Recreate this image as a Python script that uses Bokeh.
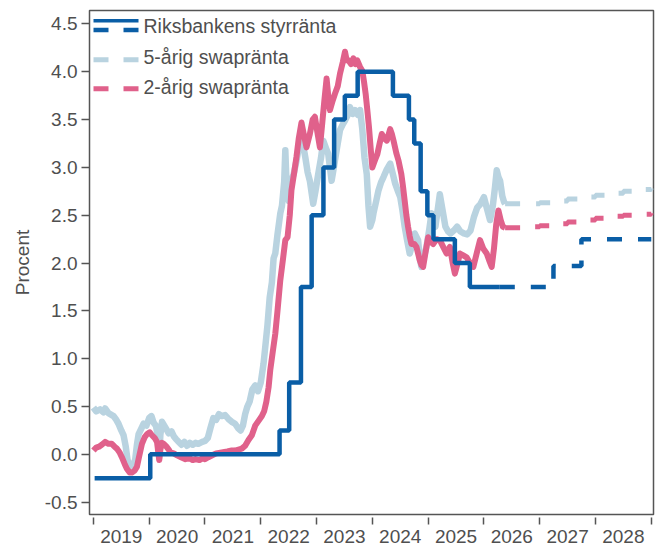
import datetime as dt
from bokeh.plotting import figure
from bokeh.models import Range1d, FixedTicker, CustomJSTickFormatter, PrintfTickFormatter
from bokeh.embed import file_html
from bokeh.resources import INLINE
from bokeh.core.properties import value

# ---------------- data ----------------
# Riksbank policy rate: effective dates of changes, and the rate from that date
policy_dates = ["2019-01-09", "2020-01-08", "2022-05-04", "2022-07-06", "2022-09-21",
                "2022-11-30", "2023-02-15", "2023-04-26", "2023-07-05", "2023-09-27",
                "2024-05-15", "2024-08-28", "2024-10-02", "2024-11-13", "2024-12-27",
                "2025-02-05", "2025-06-25", "2025-10-01", "2026-04-15"]
policy_rate = [-0.25, 0.00, 0.25, 0.75, 1.75, 2.50, 3.00, 3.50, 3.75, 4.00,
               3.75, 3.50, 3.25, 2.75, 2.50, 2.25, 2.00, 1.75, 1.75]

# policy rate forecast (dashed)
policy_fc_dates = ["2026-04-15", "2027-04-01", "2027-10-01", "2029-01-01"]
policy_fc_rate = [1.75, 1.97, 2.25, 2.25]

# 5-year swap rate (decimal years, percent)
swap5_t = [2019.00, 2019.05, 2019.12, 2019.18, 2019.21, 2019.27, 2019.30, 2019.36, 2019.40, 2019.45,
           2019.50, 2019.54, 2019.58, 2019.61, 2019.64, 2019.68, 2019.72, 2019.75, 2019.78, 2019.81,
           2019.86, 2019.90, 2019.95, 2020.00, 2020.04, 2020.08, 2020.12, 2020.16, 2020.18, 2020.20,
           2020.23, 2020.27, 2020.31, 2020.35, 2020.40, 2020.44, 2020.48, 2020.53, 2020.58, 2020.63,
           2020.68, 2020.73, 2020.78, 2020.83, 2020.88, 2020.95, 2021.00, 2021.05, 2021.10, 2021.15,
           2021.20, 2021.25, 2021.30, 2021.36, 2021.42, 2021.48, 2021.54, 2021.60, 2021.64, 2021.68,
           2021.72, 2021.76, 2021.80, 2021.85, 2021.90, 2021.95, 2022.00, 2022.05, 2022.08, 2022.12,
           2022.16, 2022.20, 2022.23, 2022.26, 2022.30, 2022.35, 2022.38, 2022.42, 2022.44, 2022.47,
           2022.50, 2022.54, 2022.59, 2022.64, 2022.68, 2022.73, 2022.77, 2022.80, 2022.84, 2022.88,
           2022.94, 2022.98, 2023.03, 2023.08, 2023.12, 2023.17, 2023.21, 2023.27, 2023.31, 2023.34,
           2023.38, 2023.42, 2023.47, 2023.51, 2023.56, 2023.60, 2023.65, 2023.69, 2023.74, 2023.78,
           2023.82, 2023.86, 2023.90, 2023.93, 2023.96, 2024.00, 2024.02, 2024.07, 2024.11, 2024.16,
           2024.20, 2024.26, 2024.32, 2024.36, 2024.41, 2024.46, 2024.50, 2024.54, 2024.58, 2024.62,
           2024.67, 2024.72, 2024.76, 2024.82, 2024.85, 2024.88, 2024.92, 2024.97, 2025.02, 2025.06,
           2025.10, 2025.13, 2025.17, 2025.21, 2025.26, 2025.31, 2025.36, 2025.40, 2025.46, 2025.52,
           2025.58, 2025.64, 2025.70, 2025.76, 2025.82, 2025.88, 2025.94, 2026.00, 2026.05, 2026.11,
           2026.16, 2026.20, 2026.23, 2026.26, 2026.29, 2026.33, 2026.36, 2026.38]
swap5_v = [0.49, 0.45, 0.47, 0.44, 0.48, 0.43, 0.42, 0.40, 0.37, 0.32,
           0.25, 0.20, 0.08, -0.05, -0.13, -0.10, -0.12, -0.05, 0.10, 0.21,
           0.27, 0.32, 0.30, 0.38, 0.40, 0.33, 0.30, 0.18, -0.03, 0.20,
           0.34, 0.30, 0.26, 0.22, 0.24, 0.19, 0.16, 0.13, 0.10, 0.13,
           0.09, 0.12, 0.10, 0.12, 0.11, 0.13, 0.14, 0.17, 0.28, 0.38,
           0.36, 0.42, 0.40, 0.41, 0.37, 0.34, 0.32, 0.27, 0.25, 0.30,
           0.42, 0.50, 0.55, 0.68, 0.72, 0.66, 0.75, 0.95, 1.12, 1.35,
           1.64, 1.80, 2.05, 2.10, 2.30, 2.52, 2.60, 2.85, 3.18, 2.70,
           2.65, 2.85, 2.93, 3.07, 3.20, 3.28, 3.20, 3.10, 2.95, 2.86,
           2.62, 2.75, 2.93, 3.10, 3.28, 3.20, 3.14, 2.86, 3.00, 3.11,
           3.25, 3.39, 3.45, 3.49, 3.55, 3.63, 3.56, 3.60, 3.55, 3.60,
           3.40, 3.10, 2.93, 2.60, 2.38, 2.45, 2.52, 2.65, 2.76, 2.85,
           2.90, 2.98, 3.04, 2.95, 2.83, 2.75, 2.69, 2.55, 2.38, 2.25,
           2.10, 2.20, 2.31, 2.24, 2.05, 1.96, 2.05, 2.17, 2.35, 2.52,
           2.45, 2.38, 2.55, 2.72, 2.55, 2.38, 2.33, 2.31, 2.34, 2.38,
           2.33, 2.31, 2.30, 2.34, 2.48, 2.58, 2.62, 2.69, 2.58, 2.45,
           2.60, 2.80, 2.97, 2.90, 2.86, 2.70, 2.64, 2.62]

# 2-year swap rate (decimal years, percent)
swap2_t = [2019.00, 2019.05, 2019.10, 2019.15, 2019.21, 2019.27, 2019.33, 2019.38, 2019.42, 2019.47,
           2019.51, 2019.56, 2019.60, 2019.65, 2019.69, 2019.74, 2019.78, 2019.82, 2019.87, 2019.92,
           2019.96, 2020.01, 2020.05, 2020.10, 2020.14, 2020.18, 2020.20, 2020.23, 2020.26, 2020.31,
           2020.35, 2020.38, 2020.44, 2020.50, 2020.57, 2020.65, 2020.72, 2020.78, 2020.83, 2020.90,
           2020.96, 2021.00, 2021.06, 2021.13, 2021.20, 2021.30, 2021.40, 2021.48, 2021.54, 2021.60,
           2021.66, 2021.72, 2021.78, 2021.84, 2021.90, 2021.96, 2022.02, 2022.06, 2022.10, 2022.14,
           2022.17, 2022.21, 2022.26, 2022.30, 2022.35, 2022.40, 2022.44, 2022.48, 2022.52, 2022.55,
           2022.60, 2022.64, 2022.68, 2022.73, 2022.77, 2022.82, 2022.88, 2022.93, 2022.97, 2023.02,
           2023.06, 2023.10, 2023.14, 2023.18, 2023.21, 2023.24, 2023.29, 2023.33, 2023.38, 2023.42,
           2023.47, 2023.51, 2023.54, 2023.57, 2023.62, 2023.66, 2023.70, 2023.73, 2023.78, 2023.82,
           2023.85, 2023.88, 2023.91, 2023.94, 2023.97, 2024.00, 2024.05, 2024.09, 2024.13, 2024.17,
           2024.22, 2024.26, 2024.32, 2024.35, 2024.38, 2024.43, 2024.47, 2024.52, 2024.55, 2024.58,
           2024.61, 2024.64, 2024.67, 2024.70, 2024.75, 2024.79, 2024.82, 2024.85, 2024.88, 2024.91,
           2024.95, 2025.00, 2025.05, 2025.09, 2025.15, 2025.21, 2025.27, 2025.33, 2025.39, 2025.44,
           2025.48, 2025.53, 2025.57, 2025.63, 2025.69, 2025.75, 2025.81, 2025.87, 2025.93, 2025.99,
           2026.05, 2026.10, 2026.14, 2026.18, 2026.22, 2026.26, 2026.30, 2026.34, 2026.38]
swap2_v = [0.04, 0.07, 0.08, 0.10, 0.13, 0.11, 0.11, 0.08, 0.06, 0.02,
           -0.03, -0.10, -0.15, -0.19, -0.19, -0.17, -0.13, -0.02, 0.11, 0.18,
           0.21, 0.23, 0.20, 0.17, 0.13, -0.06, 0.05, 0.12, 0.11, 0.08,
           0.05, 0.02, 0.01, -0.01, -0.03, -0.05, -0.04, -0.06, -0.05, -0.06,
           -0.04, -0.05, -0.03, -0.01, 0.01, 0.02, 0.03, 0.04, 0.04, 0.05,
           0.06, 0.09, 0.15, 0.20, 0.30, 0.35, 0.40, 0.45, 0.55, 0.70,
           0.88, 1.05, 1.26, 1.50, 1.82, 2.05, 2.24, 2.27, 2.50, 2.76,
           2.95, 3.11, 3.30, 3.47, 3.35, 3.21, 3.35, 3.50, 3.53, 3.35,
           3.21, 3.45, 3.70, 3.93, 3.75, 3.60, 3.70, 3.77, 3.85, 3.98,
           4.10, 4.21, 4.12, 4.12, 4.08, 4.14, 4.08, 4.12, 4.05, 4.01,
           3.90, 3.77, 3.60, 3.42, 3.20, 3.00, 3.08, 3.14, 3.25, 3.35,
           3.30, 3.28, 3.40, 3.35, 3.28, 3.15, 3.07, 2.93, 2.80, 2.65,
           2.50, 2.38, 2.28, 2.20, 2.20, 2.17, 2.10, 2.03, 1.98, 1.96,
           2.10, 2.27, 2.22, 2.20, 2.25, 2.24, 2.17, 2.10, 2.17, 2.00,
           1.89, 2.00, 2.10, 2.08, 2.06, 2.00, 1.96, 2.10, 2.24, 2.15,
           2.10, 2.02, 1.96, 2.15, 2.40, 2.55, 2.45, 2.38, 2.37]

# forward (forecast) swap rates, quarterly
swap_fc_t = [2026.38, 2026.50, 2026.75, 2027.00, 2027.25, 2027.50, 2027.75,
             2028.00, 2028.25, 2028.50, 2028.75, 2029.00]
swap5_fc = [2.62, 2.62, 2.62, 2.63, 2.65, 2.67, 2.69, 2.71, 2.73, 2.75, 2.77, 2.78]
swap2_fc = [2.37, 2.37, 2.38, 2.39, 2.41, 2.43, 2.45, 2.47, 2.49, 2.50, 2.51, 2.52]

year_ticks = list(range(2019, 2030))
y_ticks = [-0.5, 0.0, 0.5, 1.0, 1.5, 2.0, 2.5, 3.0, 3.5, 4.0, 4.5]
labels = ["Riksbankens styrränta", "5-årig swapränta", "2-årig swapränta"]
y_label = "Procent"


def dec(s):
    d = dt.date.fromisoformat(s)
    a = dt.date(d.year, 1, 1)
    b = dt.date(d.year + 1, 1, 1)
    return d.year + (d - a).days / (b - a).days


BLUE = "#0a5ea6"
LIGHT = "#b9d3e0"
PINK = "#e0618b"
TEXT = "#4f4f4f"
AXC = "#555555"
FONT = "Liberation Sans"

FW, FH = 564, 504
p = figure(frame_width=FW, frame_height=FH,
           x_range=Range1d(2018.93, 2029.04), y_range=Range1d(-0.629, 4.641),
           output_backend="svg", toolbar_location=None,
           min_border_left=89, min_border_right=3, min_border_top=10, min_border_bottom=35)
p.background_fill_color = "white"
p.border_fill_color = "white"
p.xgrid.visible = False
p.ygrid.visible = False
p.outline_line_color = AXC
p.outline_line_width = 1.5

# data lines
p.line(swap5_t, swap5_v, color=LIGHT, line_width=6.5, line_join="round")
p.line(swap2_t, swap2_v, color=PINK, line_width=6, line_join="round")
p.step(swap_fc_t, swap5_fc, mode="after", color=LIGHT, line_width=5, line_dash="15 16")
p.step(swap_fc_t, swap2_fc, mode="after", color=PINK, line_width=5, line_dash="15 16")
p.step([dec(d) for d in policy_dates], policy_rate, mode="after", color=BLUE, line_width=4.5)
p.step([dec(d) for d in policy_fc_dates], policy_fc_rate, mode="after", color=BLUE,
       line_width=4.5, line_dash="15 16")

# axes
xa = p.xaxis[0]
xa.ticker = FixedTicker(ticks=[y + 0.5 for y in year_ticks[:-1]], minor_ticks=year_ticks)
xa.formatter = CustomJSTickFormatter(code="return Math.floor(tick).toString();")
xa.axis_line_color = None
xa.major_tick_in = 0
xa.major_tick_out = 0
xa.minor_tick_in = -3
xa.minor_tick_out = 10
xa.minor_tick_line_color = AXC
xa.minor_tick_line_width = 1.5
xa.major_label_standoff = 5

ya = p.yaxis[0]
ya.ticker = FixedTicker(ticks=y_ticks, minor_ticks=[])
ya.formatter = PrintfTickFormatter(format="%.1f")
ya.axis_line_color = None
ya.major_tick_in = 0
ya.major_tick_out = 8
ya.major_tick_line_color = AXC
ya.major_tick_line_width = 1.5
ya.major_label_standoff = 4
ya.axis_label = y_label
ya.axis_label_standoff = 9

for ax in (xa, ya):
    ax.major_label_text_font = FONT
    ax.major_label_text_font_size = "19px"
    ax.major_label_text_color = TEXT
    ax.axis_label_text_font = FONT
    ax.axis_label_text_font_size = "19px"
    ax.axis_label_text_color = TEXT
    ax.axis_label_text_font_style = "normal"

# legend drawn in frame-pixel space
p.extra_x_ranges = {"lx": Range1d(0, FW)}
p.extra_y_ranges = {"ly": Range1d(FH, 0)}
lk = dict(x_range_name="lx", y_range_name="ly")
p.segment(x0=[4], y0=[10.3], x1=[49], y1=[10.3], color=BLUE, line_width=3.5, **lk)
p.segment(x0=[4], y0=[19.5], x1=[49], y1=[19.5], color=BLUE, line_width=4.5, line_dash="15 15", **lk)
p.segment(x0=[4], y0=[49.2], x1=[49], y1=[49.2], color=LIGHT, line_width=5, line_dash="15 15", **lk)
p.segment(x0=[4], y0=[78.3], x1=[49], y1=[78.3], color=PINK, line_width=5, line_dash="15 15", **lk)
p.text(x=[54, 54, 54], y=[15, 46.7, 76.3], text=labels, text_font=value(FONT),
       text_font_size="19.5px", text_color=TEXT, text_baseline="middle", text_align="left", **lk)

open("out.html", "w").write(file_html(p, INLINE))
